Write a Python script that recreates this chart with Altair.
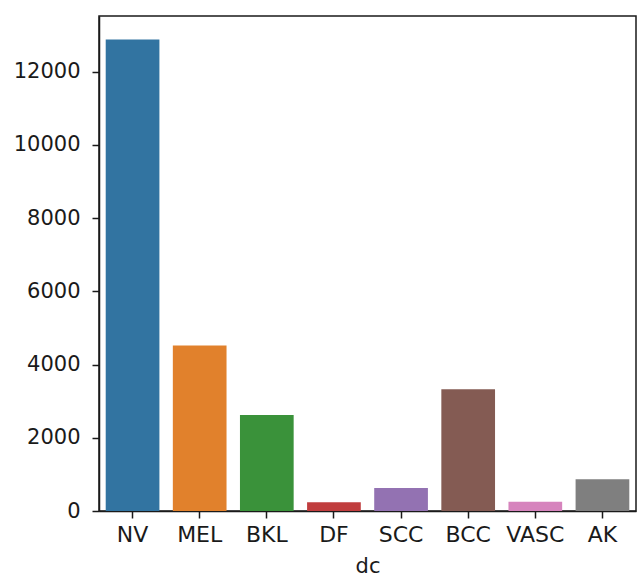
import altair as alt
import pandas as pd

categories = ["NV", "MEL", "BKL", "DF", "SCC", "BCC", "VASC", "AK"]
counts = [12875, 4522, 2624, 239, 628, 3323, 253, 867]
colors = ["#3274a1", "#e1812c", "#3a923a", "#c03d3e", "#9372b2", "#845b53", "#d684bd", "#7f7f7f"]
y_ticks = [0, 2000, 4000, 6000, 8000, 10000, 12000]

df = pd.DataFrame({"dc": categories, "count": counts})

font = "DejaVu Sans"

chart = (
    alt.Chart(df)
    .mark_bar()
    .encode(
        x=alt.X(
            "dc:N",
            sort=categories,
            scale=alt.Scale(paddingInner=0.2, paddingOuter=0.1),
            axis=alt.Axis(
                title="dc",
                labelAngle=0,
                labelFont=font,
                labelFontSize=22,
                labelColor="#1a1a1a",
                labelPadding=6,
                titleFont=font,
                titleFontSize=21,
                titleFontWeight="normal",
                titleColor="#1a1a1a",
                titlePadding=10,
                tickSize=7,
                tickColor="#1a1a1a",
                tickWidth=1.5,
                domainColor="#1a1a1a",
                domainWidth=1.5,
                grid=False,
            ),
        ),
        y=alt.Y(
            "count:Q",
            scale=alt.Scale(domain=[0, 13518.75], nice=False, zero=True),
            axis=alt.Axis(
                title=None,
                values=y_ticks,
                format="d",
                labelFont=font,
                labelFontSize=21,
                labelColor="#1a1a1a",
                labelPadding=12,
                tickSize=7,
                tickColor="#1a1a1a",
                tickWidth=1.5,
                domainColor="#1a1a1a",
                domainWidth=1.5,
                grid=False,
            ),
        ),
        color=alt.Color(
            "dc:N",
            sort=categories,
            scale=alt.Scale(domain=categories, range=colors),
            legend=None,
        ),
    )
    .properties(
        width=537,
        height=495,
        background="white",
        autosize=alt.AutoSizeParams(type="none"),
        padding={"left": 99, "top": 16, "right": 1, "bottom": 67},
    )
    .configure_view(stroke="#1a1a1a", strokeWidth=1.5)
)

chart.save("out.html", embed_options={"renderer": "svg", "actions": False})
